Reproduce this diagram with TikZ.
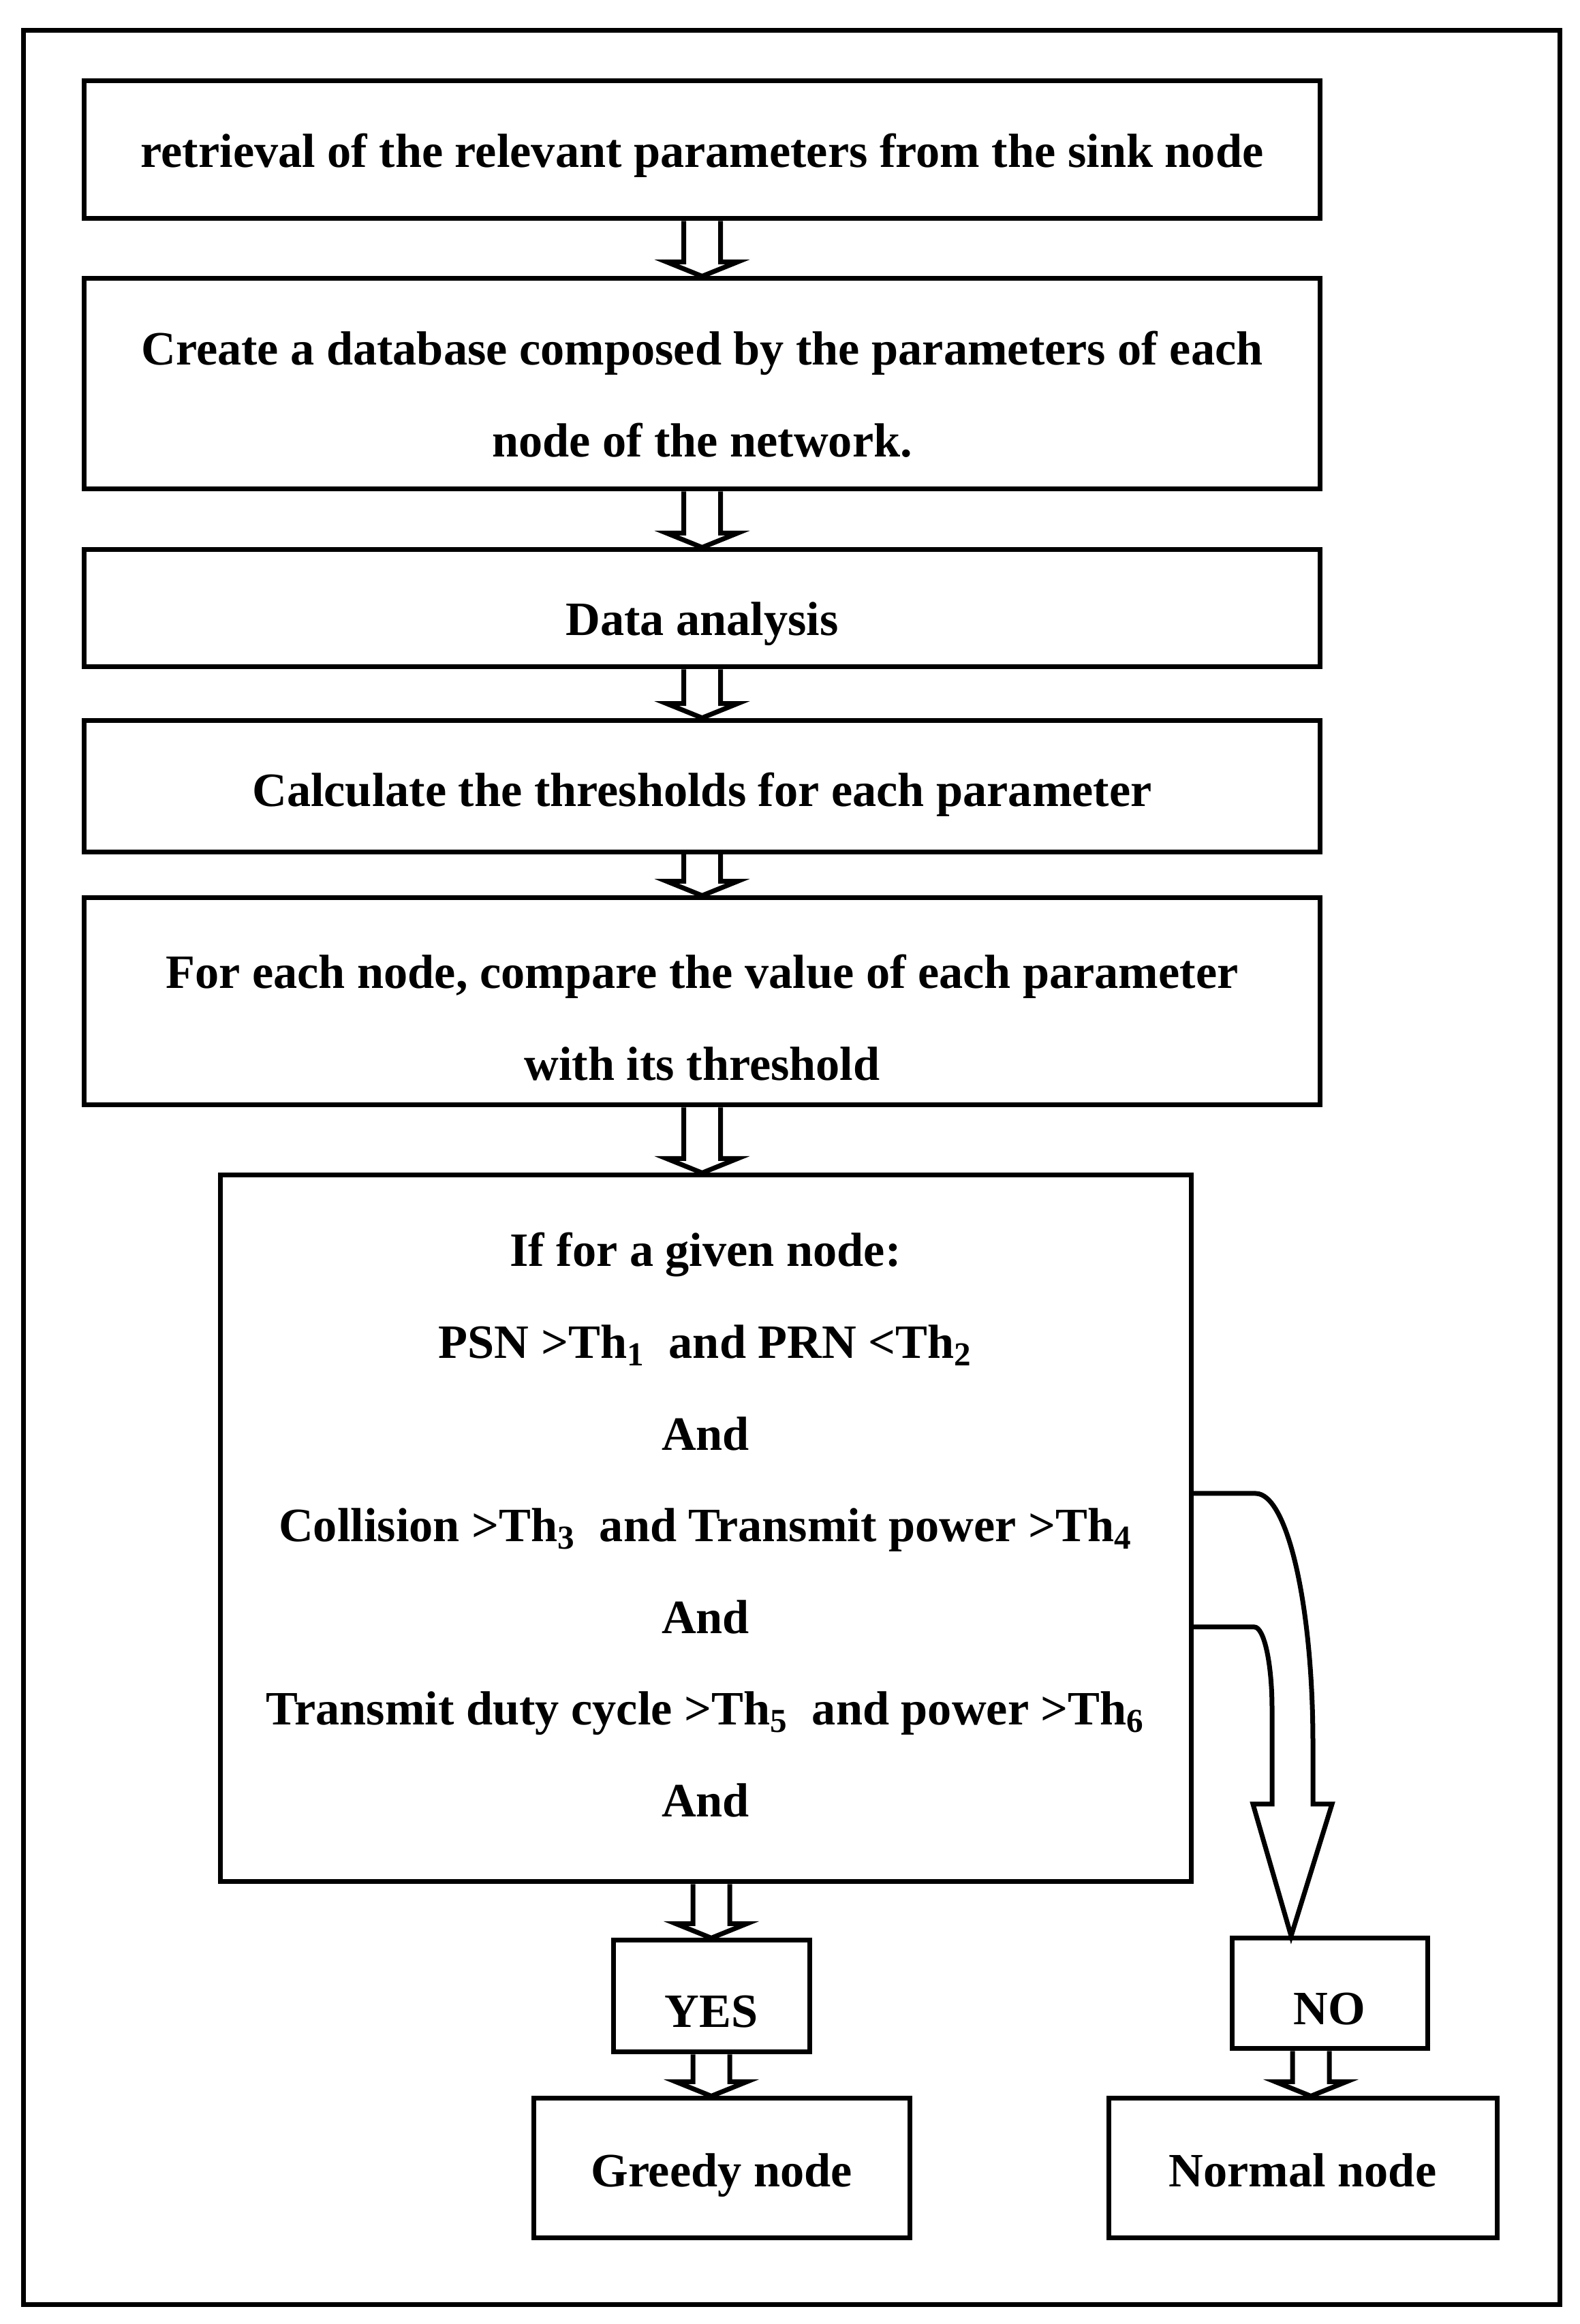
\documentclass[tikz,border=0pt]{standalone}
\usepackage{fontspec}
\setmainfont{Liberation Serif}
\usepackage{tikz}
\usetikzlibrary{calc}
\tikzset{
	box/.style={draw, line width=0.7mm, inner sep=0pt, align=center, font=\bfseries\fontsize{20}{38.3}\selectfont},
	wide/.style={box, minimum width=18.13cm},
	textbox/.style={text height=#1, text depth=0pt},
	hollow/.style={draw, line width=0.7mm, line join=miter}
}
\def\blockarrow(#1)(#2){\draw[hollow] ($(#1)+(-0.27,0)$) -- ($(#1 |- #2)+(-0.27,0.21)$) -- ($(#1 |- #2)+(-0.52,0.21)$) -- (#1 |- #2) -- ($(#1 |- #2)+(0.52,0.21)$) -- ($(#1 |- #2)+(0.27,0.21)$) -- ($(#1)+(0.27,0)$);}

\begin{document}
\begin{tikzpicture}
		%%%%% START %%%%%
		\useasboundingbox (0, 0) rectangle (23.19, 34.11);
		\draw[line width=0.7mm] (0.345, 0.29) rectangle (22.89, 33.665);
		
		\node[wide, minimum height=2.02cm, textbox=0.51cm] (b1) at (10.305, 31.91) {retrieval of the relevant parameters from the sink node};
		\node[wide, minimum height=3.09cm, textbox=2.14cm] (b2) at (10.305, 28.475) {Create a database composed by the parameters of each\\ node of the network.};
		\node[wide, minimum height=1.72cm, textbox=0.80cm] (b3) at (10.305, 25.18) {Data analysis};
		\node[wide, minimum height=1.93cm, textbox=0.59cm] (b4) at (10.305, 22.573) {Calculate the thresholds for each parameter};
		\node[wide, minimum height=3.04cm, textbox=2.31cm] (b5) at (10.305, 19.41) {For each node, compare the value of each parameter\\ with its threshold};
		
		\node[box, minimum width=14.25cm, minimum height=10.37cm, textbox=8.46cm] (dec) at (10.355, 11.675) {If for a given node:\\ PSN >Th\textsubscript{1}~ and PRN <Th\textsubscript{2}\\ And\\ Collision >Th\textsubscript{3}~ and Transmit power >Th\textsubscript{4}\\ And\\ Transmit duty cycle >Th\textsubscript{5}~ and power >Th\textsubscript{6}\\ And};
		
		\node[box, minimum width=2.88cm, minimum height=1.64cm, textbox=0.92cm] (yes) at (10.44, 4.81) {YES};
		\node[box, minimum width=2.87cm, minimum height=1.62cm, textbox=0.92cm] (no) at (19.515, 4.85) {NO};
		\node[box, minimum width=5.52cm, minimum height=2.05cm, textbox=0.54cm] (greedy) at (10.59, 2.285) {Greedy node};
		\node[box, minimum width=5.70cm, minimum height=2.05cm, textbox=0.54cm] (normal) at (19.12, 2.285) {Normal node};
		
		\blockarrow(b1.south)(b2.north)
		\blockarrow(b2.south)(b3.north)
		\blockarrow(b3.south)(b4.north)
		\blockarrow(b4.south)(b5.north)
		\blockarrow(b5.south)(dec.north)
		
		\coordinate (decout) at (yes.north |- dec.south);
		\coordinate (noout) at ($(no.south)+(-0.275,0)$);
		\blockarrow(decout)(yes.north)
		\blockarrow(yes.south)(greedy.north)
		\blockarrow(noout)(normal.north)
		
		% curved arrow to NO
		\draw[hollow] ($(dec.east)+(0,0.515)$) -- (18.43, 12.19) arc[start angle=90, end angle=0, x radius=0.84, y radius=3.67] -- (19.27, 7.63) -- (19.55, 7.63) -- ($(no.north)+(-0.565,0)$) -- (18.39, 7.63) -- (18.67, 7.63) -- (18.67, 9.03) arc[start angle=0, end angle=90, x radius=0.26, y radius=1.2] -- ($(dec.east)+(0,-1.445)$);
		
		%%%%% END %%%%%
	\end{tikzpicture}
\end{document}
